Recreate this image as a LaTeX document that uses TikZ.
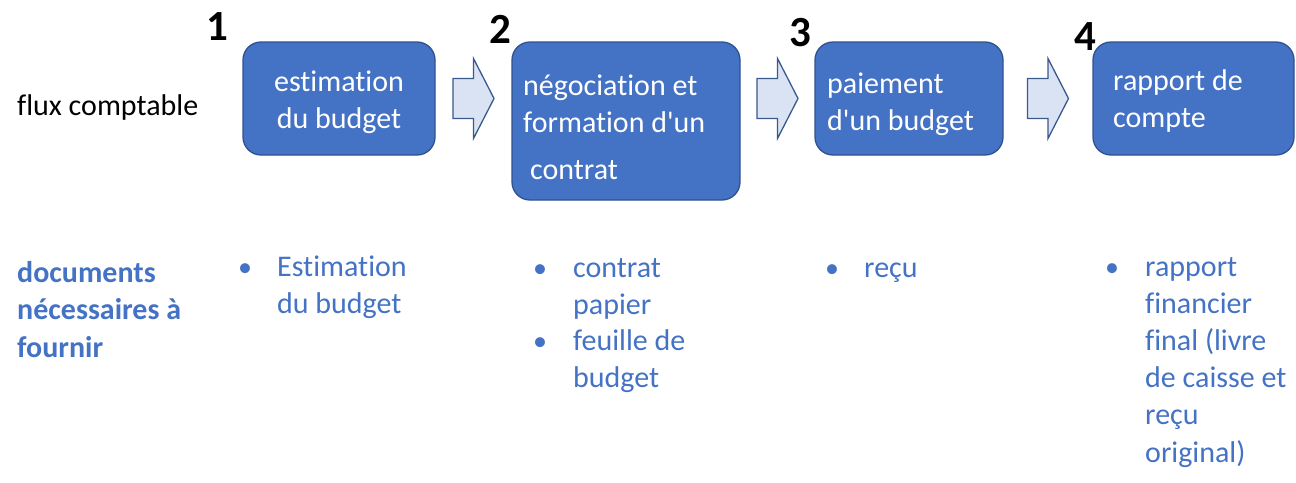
\documentclass[tikz,border=0pt]{standalone}
\usepackage{fontspec}
\setmainfont{Carlito}[Ligatures={TeXOff,NoCommon}]
\usetikzlibrary{calc}
\definecolor{boxblue}{HTML}{4472C4}
\definecolor{boxedge}{HTML}{2F528F}
\definecolor{arrfill}{HTML}{DAE3F3}
\definecolor{arredge}{HTML}{3A5A8E}
\definecolor{txtblue}{HTML}{4472C4}
\tikzset{
  stagebox/.style={draw=boxedge, fill=boxblue, line width=1.3pt, rounded corners=18pt, inner sep=0pt},
  boxtext/.style={text=white, align=left, inner sep=0pt, font=\fontsize{30}{37.5}\selectfont},
  numlabel/.style={text=black, inner sep=0pt, font=\fontsize{43}{45}\selectfont\bfseries},
  sidelabel/.style={inner sep=0pt, align=left, font=\fontsize{30}{37.5}\selectfont},
  doctext/.style={text=txtblue, inner sep=0pt, align=left, font=\fontsize{30}{37.2}\selectfont},
  bulletmark/.style={text=txtblue, inner sep=0pt, font=\fontsize{28}{37.2}\selectfont},
  blockarr/.style={draw=arredge, fill=arrfill, line width=1.3pt, line join=miter}
}
\newcommand{\blockarrow}[1]{%
  \draw[blockarr] ([shift={(-20.5,-20)}]#1) -- ([shift={(0,-20)}]#1) -- ([shift={(0,-40)}]#1)
    -- ([shift={(20.5,0)}]#1) -- ([shift={(0,40)}]#1) -- ([shift={(0,20)}]#1)
    -- ([shift={(-20.5,20)}]#1) -- cycle;}
\begin{document}
\begin{tikzpicture}[x=1pt,y=-1pt]
\useasboundingbox (0,0) rectangle (1296,482);

% stage boxes
\node[stagebox, minimum width=192pt, minimum height=113pt] (b1) at (339,98.5) {};
\node[stagebox, minimum width=228pt, minimum height=158pt] (b2) at (626,121) {};
\node[stagebox, minimum width=188pt, minimum height=113pt] (b3) at (909,98.5) {};
\node[stagebox, minimum width=201pt, minimum height=113pt] (b4) at (1193.5,98.5) {};

% box texts (anchor = baseline of last line)
\node[boxtext, align=center, anchor=base] (t1) at (339,128.5) {estimation\\du budget};
\node[boxtext, anchor=base west] (t2) at (523,179.5) {négociation et\\formation d'un\\[9.5pt]\hspace*{7pt}contrat};
\node[boxtext, anchor=base west] (t3) at (827,130.5) {paiement\\d'un budget};
\node[boxtext, anchor=base west] (t4) at (1113,127.5) {rapport de\\compte};

% step numbers
\node[numlabel] (n1) at (217,27) {1};
\node[numlabel] (n2) at (500,29) {2};
\node[numlabel] (n3) at (800,33) {3};
\node[numlabel] (n4) at (1085,37) {4};

% block arrows between boxes
\coordinate (m1) at ($(b1.east)!0.5!(b2.west |- b1.east)$);
\coordinate (m2) at ($(b2.east |- b3.west)!0.5!(b3.west)$);
\coordinate (m3) at ($(b3.east)!0.5!(b4.west)$);
\blockarrow{m1}
\blockarrow{m2}
\blockarrow{m3}

% row labels
\node[sidelabel, anchor=base west] (flux) at (17,115) {flux comptable};
\node[sidelabel, anchor=base west, text=txtblue, font=\fontsize{30}{37.5}\selectfont\bfseries] (docs) at (17,357) {documents\\nécessaires à\\fournir};

% document lists
\node[bulletmark, anchor=base] (p1) at (245,276) {•};
\node[doctext, anchor=base west] (d1) at (277,313.2) {Estimation\\du budget};

\node[bulletmark, anchor=base] (p2a) at (540,277) {•};
\node[doctext, anchor=base west] (d2a) at (573,314.2) {contrat\\papier};
\node[bulletmark, anchor=base] (p2b) at (540,350) {•};
\node[doctext, anchor=base west] (d2b) at (573,387.2) {feuille de\\budget};

\node[bulletmark, anchor=base] (p3) at (832,277) {•};
\node[doctext, anchor=base west] (d3) at (864,277) {reçu};

\node[bulletmark, anchor=base] (p4) at (1112,276) {•};
\node[doctext, anchor=base west] (d4) at (1145,462) {rapport\\financier\\final (livre\\de caisse et\\reçu\\original)};
\end{tikzpicture}
\end{document}
